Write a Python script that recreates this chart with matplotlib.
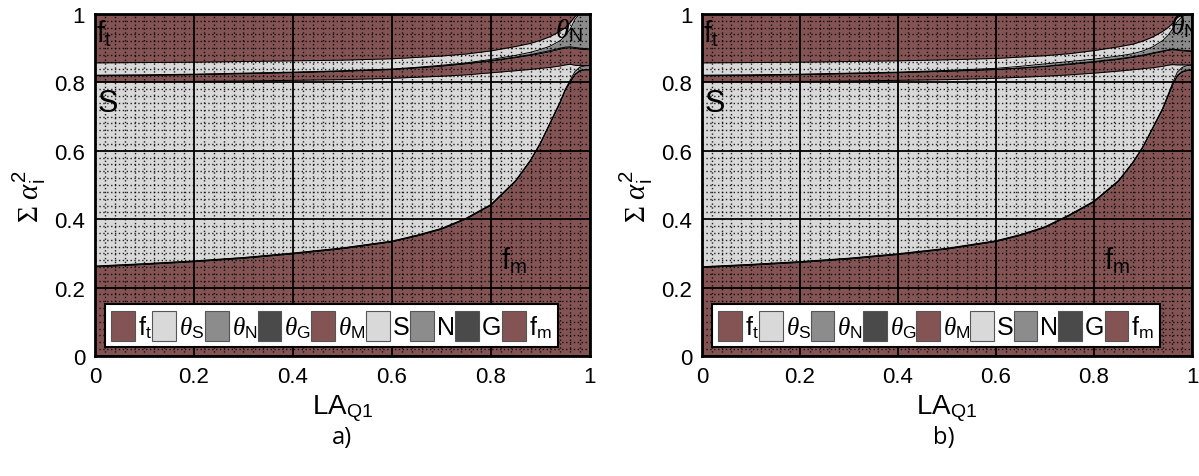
import numpy as np
import matplotlib
matplotlib.use('Agg')
import matplotlib.pyplot as plt
from matplotlib.ticker import MultipleLocator
from matplotlib.patches import Patch

plt.rcParams['font.family'] = ['Liberation Sans', 'DejaVu Sans']
plt.rcParams['mathtext.fontset'] = 'custom'
plt.rcParams['mathtext.rm'] = 'Liberation Serif'
plt.rcParams['mathtext.it'] = 'Liberation Serif:italic'
plt.rcParams['mathtext.sf'] = 'Liberation Sans'

# LA_Q1 sample points
x = [0, 0.1, 0.2, 0.3, 0.4, 0.5, 0.6, 0.65, 0.7, 0.75, 0.8, 0.85, 0.88, 0.9,
     0.92, 0.94, 0.95, 0.96, 0.97, 0.98, 0.99, 1.0]

# cumulative sum of alpha^2 (top of each layer), panel a)
fm_a = [0.260, 0.267, 0.275, 0.285, 0.298, 0.313, 0.333, 0.350, 0.370, 0.400, 0.440,
        0.510, 0.570, 0.620, 0.680, 0.740, 0.775, 0.800, 0.822, 0.833, 0.836, 0.836]
G_a = [0.262, 0.269, 0.277, 0.287, 0.300, 0.315, 0.335, 0.352, 0.372, 0.402, 0.442,
       0.512, 0.572, 0.622, 0.682, 0.742, 0.777, 0.802, 0.824, 0.835, 0.837, 0.837]
N_a = [0.263, 0.270, 0.278, 0.288, 0.301, 0.316, 0.336, 0.353, 0.373, 0.403, 0.443,
       0.513, 0.573, 0.623, 0.683, 0.744, 0.779, 0.806, 0.832, 0.845, 0.848, 0.849]
S_a = [0.802, 0.802, 0.803, 0.804, 0.806, 0.808, 0.812, 0.815, 0.818, 0.822, 0.828,
       0.834, 0.838, 0.841, 0.844, 0.848, 0.851, 0.853, 0.850, 0.849, 0.849, 0.849]
thM_a = [0.819, 0.820, 0.822, 0.825, 0.828, 0.832, 0.837, 0.842, 0.847, 0.854, 0.862,
         0.872, 0.879, 0.884, 0.890, 0.897, 0.900, 0.901, 0.899, 0.897, 0.896, 0.895]
thG_a = [0.820, 0.821, 0.823, 0.826, 0.829, 0.833, 0.838, 0.843, 0.848, 0.855, 0.864,
         0.874, 0.881, 0.887, 0.893, 0.900, 0.903, 0.904, 0.902, 0.900, 0.899, 0.898]
thN_a = [0.821, 0.822, 0.824, 0.827, 0.830, 0.834, 0.839, 0.844, 0.850, 0.857, 0.867,
         0.879, 0.888, 0.896, 0.906, 0.922, 0.935, 0.955, 0.985, 1.0, 1.0, 1.0]
thS_a = [0.857, 0.858, 0.859, 0.861, 0.863, 0.865, 0.869, 0.873, 0.877, 0.883, 0.892,
         0.905, 0.914, 0.923, 0.934, 0.950, 0.960, 0.974, 0.993, 1.0, 1.0, 1.0]
ft_a = [1.0] * len(x)

# panel b)
fm_b = [0.258, 0.265, 0.273, 0.283, 0.296, 0.312, 0.334, 0.352, 0.375, 0.410, 0.450,
        0.510, 0.565, 0.610, 0.665, 0.720, 0.755, 0.790, 0.818, 0.830, 0.834, 0.835]
G_b = [0.260, 0.267, 0.275, 0.285, 0.298, 0.314, 0.336, 0.354, 0.377, 0.412, 0.452,
       0.512, 0.567, 0.612, 0.667, 0.722, 0.757, 0.792, 0.820, 0.832, 0.836, 0.837]
N_b = [0.261, 0.268, 0.276, 0.286, 0.299, 0.315, 0.337, 0.355, 0.378, 0.413, 0.453,
       0.513, 0.568, 0.613, 0.668, 0.724, 0.760, 0.797, 0.830, 0.844, 0.849, 0.851]
S_b = [0.802, 0.802, 0.803, 0.804, 0.806, 0.808, 0.812, 0.815, 0.818, 0.822, 0.827,
       0.833, 0.837, 0.840, 0.843, 0.847, 0.850, 0.852, 0.851, 0.851, 0.851, 0.851]
thM_b = [0.819, 0.820, 0.822, 0.825, 0.828, 0.832, 0.837, 0.841, 0.846, 0.852, 0.859,
         0.867, 0.873, 0.878, 0.884, 0.890, 0.893, 0.895, 0.894, 0.892, 0.891, 0.890]
thG_b = [0.820, 0.821, 0.823, 0.826, 0.829, 0.833, 0.838, 0.842, 0.847, 0.854, 0.861,
         0.869, 0.875, 0.880, 0.886, 0.892, 0.895, 0.897, 0.896, 0.894, 0.893, 0.892]
thN_b = [0.821, 0.822, 0.824, 0.827, 0.830, 0.835, 0.841, 0.847, 0.854, 0.861, 0.868,
         0.877, 0.884, 0.892, 0.904, 0.922, 0.936, 0.955, 0.978, 0.992, 0.998, 1.0]
thS_b = [0.857, 0.858, 0.859, 0.861, 0.863, 0.866, 0.870, 0.874, 0.878, 0.884, 0.893,
         0.904, 0.912, 0.921, 0.933, 0.949, 0.959, 0.972, 0.989, 0.998, 1.0, 1.0]
ft_b = [1.0] * len(x)

brown = '#845454'
light = '#d9d9d9'
mid = '#8c8c8c'
dark = '#4a4a4a'

# bottom -> top
layer_colors = [brown, dark, mid, light, brown, dark, mid, light, brown]
legend_labels = [r'f$_\mathsf{t}$', r'$\theta_\mathsf{S}$', r'$\theta_\mathsf{N}$',
                 r'$\theta_\mathsf{G}$', r'$\theta_\mathsf{M}$', 'S', 'N', 'G',
                 r'f$_\mathsf{m}$']
legend_colors = [brown, light, mid, dark, brown, light, mid, dark, brown]


def draw(ax, tops, thN_text):
    lower = np.zeros(len(x))
    for top, c in zip(tops, layer_colors):
        top = np.array(top)
        ax.fill_between(x, lower, top, color=c, lw=0, zorder=1)
        ax.plot(x, top, color='k', lw=0.7, zorder=1.2)
        lower = top
    ax.set_xlim(0, 1)
    ax.set_ylim(0, 1)
    ax.xaxis.set_major_locator(MultipleLocator(0.2))
    ax.yaxis.set_major_locator(MultipleLocator(0.2))
    ax.xaxis.set_minor_locator(MultipleLocator(0.02))
    ax.yaxis.set_minor_locator(MultipleLocator(0.02))
    ax.grid(which='major', color='k', lw=1.3, ls='-')
    ax.grid(which='minor', color='k', lw=1.0, ls=(0, (1, 1.8)), alpha=0.85)
    ax.tick_params(which='minor', length=0)
    ax.tick_params(which='major', length=0, labelsize=16, pad=7)
    ax.xaxis.set_major_formatter(plt.FuncFormatter(lambda v, p: '%g' % round(v, 1)))
    ax.yaxis.set_major_formatter(plt.FuncFormatter(lambda v, p: '%g' % round(v, 1)))
    for s in ax.spines.values():
        s.set_linewidth(2)
        s.set_zorder(3)
    ax.set_xlabel(r'LA$_\mathsf{Q1}$', fontsize=20, labelpad=4)
    ax.set_ylabel(r'$\Sigma\ \alpha_\mathsf{i}^\mathsf{2}$', fontsize=21)
    ax.yaxis.set_label_coords(-0.095, 0.47)

    ax.text(0.003, 0.945, r'f$_\mathsf{t}$', fontsize=21, va='center', zorder=2)
    ax.text(0.006, 0.74, 'S', fontsize=22, va='center', zorder=2)
    ax.text(0.82, 0.28, r'f$_\mathsf{m}$', fontsize=21, va='center', zorder=2)
    ax.text(thN_text[0], thN_text[1], r'$\theta_\mathsf{N}$', fontsize=20,
            va='center', zorder=2, clip_on=True)

    handles = [Patch(facecolor=c, edgecolor='#555555', lw=0.8) for c in legend_colors]
    leg = ax.legend(handles, legend_labels, loc='lower left',
                    bbox_to_anchor=(0.02, 0.025, 0.915, 0.15), mode='expand',
                    ncol=9, fontsize=18, handlelength=0.95, handleheight=1.5,
                    handletextpad=0.12, columnspacing=0.2, borderpad=0.25,
                    borderaxespad=0, fancybox=False, framealpha=1)
    leg.get_frame().set_edgecolor('k')
    leg.get_frame().set_linewidth(1.5)
    leg.set_zorder(5)


fig = plt.figure(figsize=(11.99, 4.77), dpi=100)
ax1 = fig.add_axes([0.0792, 0.2516, 0.4128, 0.717])
ax2 = fig.add_axes([0.5855, 0.2516, 0.4087, 0.717])

draw(ax1, [fm_a, G_a, N_a, S_a, thM_a, thG_a, thN_a, thS_a, ft_a], (0.93, 0.955))
draw(ax2, [fm_b, G_b, N_b, S_b, thM_b, thG_b, thN_b, thS_b, ft_b], (0.955, 0.965))

fig.text(0.285, 0.082, 'a)', fontsize=17, family='Open Sans', ha='center', va='center')
fig.text(0.787, 0.082, 'b)', fontsize=17, family='Open Sans', ha='center', va='center')

fig.savefig('out.png', dpi=100)
